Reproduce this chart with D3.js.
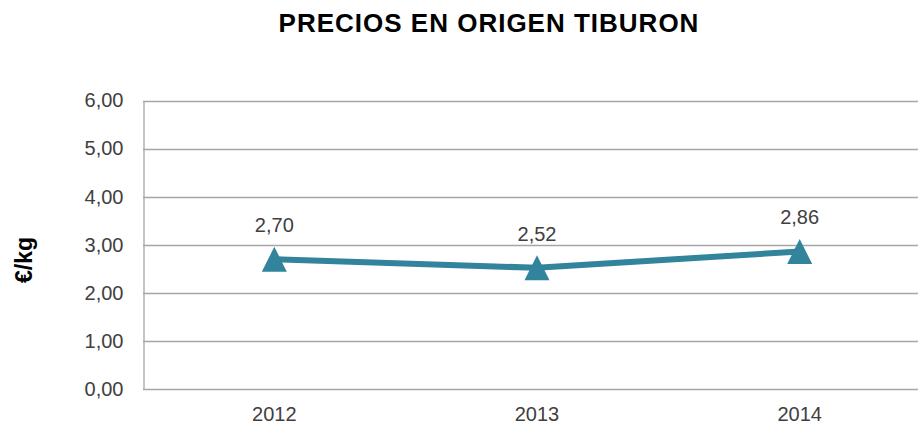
<!DOCTYPE html>
<html>
<head>
<meta charset="utf-8">
<script src="https://cdn.jsdelivr.net/npm/d3@7"></script>
<style>
  body { margin: 0; background: #fff; }
  svg { display: block; font-family: "Liberation Sans", Arial, sans-serif; }
</style>
</head>
<body>
<div id="chart"></div>
<script>
// data
const years = ["2012", "2013", "2014"];
const prices = [2.70, 2.52, 2.86];
const yTicks = [0, 1, 2, 3, 4, 5, 6];

const width = 918;
const height = 425;
const plot = { left: 143, right: 931, top: 100.5, bottom: 389 };
const lineColor = "#31849B";
const gridColor = "#a6a6a6";
const fmt = v => d3.format(".2f")(v).replace(".", ",");

const data = years.map((y, i) => ({ year: y, value: prices[i] }));

const svg = d3.select("#chart")
    .append("svg")
    .attr("width", width)
    .attr("height", height);

// scales
const xScale = d3.scaleBand()
    .domain(years)
    .range([plot.left, plot.right]);

const yScale = d3.scaleLinear()
    .domain([0, 6])
    .range([plot.bottom, plot.top]);

// title
svg.append("text")
    .attr("x", 489)
    .attr("y", 32)
    .attr("text-anchor", "middle")
    .style("font-size", "26px")
    .style("font-weight", "bold")
    .style("letter-spacing", "1px")
    .attr("fill", "#000")
    .text("PRECIOS EN ORIGEN TIBURON");

// y axis label
svg.append("text")
    .attr("transform", "translate(32,260) rotate(-90)")
    .attr("text-anchor", "middle")
    .style("font-size", "23px")
    .style("font-weight", "bold")
    .attr("fill", "#000")
    .text("€/kg");

// gridlines
svg.append("g")
    .selectAll("line")
    .data(yTicks)
    .join("line")
        .attr("x1", plot.left)
        .attr("x2", plot.right)
        .attr("y1", d => Math.round(yScale(d)) + 0.5)
        .attr("y2", d => Math.round(yScale(d)) + 0.5)
        .attr("stroke", gridColor)
        .attr("stroke-width", 1.3);

// left axis
const leftAxis = d3.axisLeft(yScale)
    .tickValues(yTicks)
    .tickSize(0)
    .tickPadding(20)
    .tickFormat(fmt);

const yAxisG = svg.append("g")
    .attr("transform", `translate(${plot.left + 0.5},0)`)
    .call(leftAxis);
yAxisG.select(".domain").attr("stroke", gridColor).attr("stroke-width", 1.3);
yAxisG.selectAll("text")
    .style("font-size", "20px")
    .style("font-family", "Liberation Sans, Arial, sans-serif")
    .attr("fill", "#404040");

// bottom axis labels
const bottomAxis = d3.axisBottom(xScale).tickSize(0).tickPadding(18);
const xAxisG = svg.append("g")
    .attr("transform", `translate(0,${plot.bottom})`)
    .call(bottomAxis);
xAxisG.select(".domain").remove();
xAxisG.selectAll("text")
    .style("font-size", "20px")
    .style("font-family", "Liberation Sans, Arial, sans-serif")
    .attr("fill", "#404040");

// line
const lineGenerator = d3.line()
    .x(d => xScale(d.year) + xScale.bandwidth() / 2)
    .y(d => yScale(d.value));

svg.append("path")
    .datum(data)
    .attr("d", lineGenerator)
    .attr("fill", "none")
    .attr("stroke", lineColor)
    .attr("stroke-width", 6)
    .attr("stroke-linejoin", "round");

// triangle markers
const tri = 12.5;
svg.append("g")
    .selectAll("path")
    .data(data)
    .join("path")
        .attr("d", d => {
            const cx = xScale(d.year) + xScale.bandwidth() / 2;
            const cy = yScale(d.value);
            return `M${cx},${cy - tri} L${cx + tri},${cy + tri} L${cx - tri},${cy + tri} Z`;
        })
        .attr("fill", lineColor);

// data labels
svg.append("g")
    .selectAll("text")
    .data(data)
    .join("text")
        .attr("x", d => xScale(d.year) + xScale.bandwidth() / 2)
        .attr("y", d => yScale(d.value) - 27)
        .attr("text-anchor", "middle")
        .style("font-size", "20px")
        .attr("fill", "#404040")
        .text(d => fmt(d.value));
</script>
</body>
</html>
